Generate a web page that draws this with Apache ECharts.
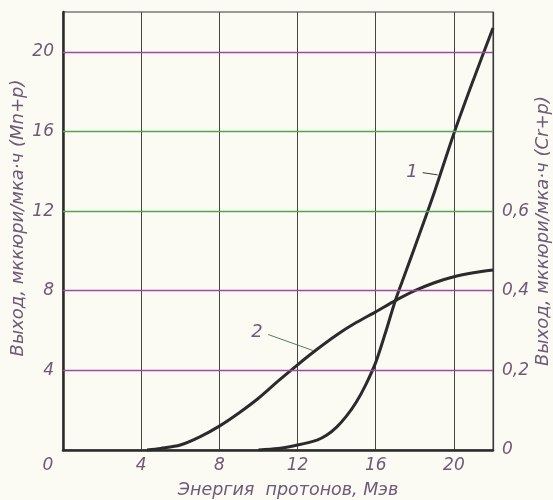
<!DOCTYPE html>
<html><head><meta charset="utf-8">
<script src="https://cdn.jsdelivr.net/npm/echarts@6/dist/echarts.min.js"></script>
<style>html,body{margin:0;padding:0;background:#fbfaf3}#c{width:553px;height:500px}</style>
</head><body><div id="c"></div>
<script>
// Curve 1: Mn+p yield (left axis)
const energy1 = [10, 11, 12, 13, 13.5, 14, 14.5, 15, 15.5, 16, 16.5, 17, 17.5, 18, 19, 20, 21, 22];
const yield1  = [0, 0.07, 0.25, 0.5, 0.75, 1.15, 1.7, 2.4, 3.3, 4.4, 5.9, 7.5, 8.85, 10.2, 12.95, 15.9, 18.6, 21.2];
// Curve 2: Cr+p yield (right axis)
const energy2 = [4.3, 5, 6, 7, 8, 9, 10, 11, 12, 13, 14, 15, 16, 17, 18, 19, 20, 21, 22];
const yield2  = [0, 0.004, 0.0125, 0.033, 0.06, 0.093, 0.13, 0.173, 0.214, 0.253, 0.289, 0.32, 0.347, 0.375, 0.4, 0.42, 0.435, 0.445, 0.452];
const xTicks = [0, 4, 8, 12, 16, 20];
const leftTicks = [0, 4, 8, 12, 16, 20];
const rightTicks = ['0', '0,2', '0,4', '0,6'];
const purpleLevels = [4, 8, 20];
const greenLevels = [12, 16];
const xTitle = 'Энергия  протонов, Мэв';
const leftTitle = 'Выход, мккюри/мка·ч (Mn+p)';
const rightTitle = 'Выход, мккюри/мка·ч (Cr+p)';

const txt = '#6e5a78';
const font = 'DejaVu Sans';
function gridSeries(levels, color) {
  return {
    type: 'line', yAxisIndex: 0, symbol: 'none', data: [], z: 1, silent: true,
    markLine: {
      silent: true, symbol: 'none', animation: false, label: {show: false},
      lineStyle: {color: color, width: 1.3, type: 'solid'},
      data: levels.map(v => ({yAxis: v}))
    }
  };
}
const chart = echarts.init(document.getElementById('c'));
chart.setOption({
  backgroundColor: '#fbfaf3',
  animation: false,
  grid: {left: 63, right: 60, top: 12, bottom: 50, containLabel: false, outerBoundsMode: 'none',
    show: true, borderColor: '#3a3a3a', borderWidth: 1, backgroundColor: 'transparent'},
  xAxis: {
    type: 'value', min: 0, max: 22, interval: 4,
    name: xTitle, nameLocation: 'middle', nameGap: 31, nameMoveOverlap: false,
    nameTextStyle: {color: txt, fontStyle: 'italic', fontSize: 17.5, fontFamily: font, padding: [0, 0, 0, 20]},
    axisLine: {show: true, lineStyle: {color: '#2a2a2a', width: 2.5}},
    axisTick: {show: false},
    axisLabel: {
      color: txt, fontStyle: 'italic', fontSize: 17, fontFamily: font, margin: 7,
      showMaxLabel: false,
      formatter: v => xTicks.includes(v) ? (v === 0 ? '{z|0}' : String(v)) : '',
      rich: {z: {color: txt, fontStyle: 'italic', fontSize: 17, fontFamily: font, padding: [0, 30, 0, 0]}}
    },
    splitLine: {show: true, lineStyle: {color: '#444', width: 1}}
  },
  yAxis: [{
    type: 'value', min: 0, max: 22, interval: 4, position: 'left',
    name: leftTitle, nameLocation: 'middle', nameGap: 36, nameRotate: 90, nameMoveOverlap: false,
    nameTextStyle: {color: txt, fontStyle: 'italic', fontSize: 18, fontFamily: font, padding: [0, 0, 0, 26]},
    axisLine: {show: true, lineStyle: {color: '#2a2a2a', width: 2.5}},
    axisTick: {show: false},
    axisLabel: {color: txt, fontStyle: 'italic', fontSize: 17, fontFamily: font, margin: 9, showMaxLabel: false,
      formatter: v => (leftTicks.includes(v) && v !== 0) ? String(v) : ''},
    splitLine: {show: false}
  }, {
    type: 'value', min: 0, max: 1.1, interval: 0.2, position: 'right',
    name: rightTitle, nameLocation: 'middle', nameGap: 41, nameRotate: 90, nameMoveOverlap: false,
    nameTextStyle: {color: txt, fontStyle: 'italic', fontSize: 18, fontFamily: font},
    axisLine: {show: true, lineStyle: {color: '#3a3a3a', width: 1.2}},
    axisTick: {show: false},
    axisLabel: {color: txt, fontStyle: 'italic', fontSize: 17, fontFamily: font, margin: 9, showMaxLabel: false,
      formatter: v => { const i = Math.round(v / 0.2); return (Math.abs(v - i * 0.2) < 1e-6 && i < rightTicks.length) ? rightTicks[i] : ''; }},
    splitLine: {show: false}
  }],
  series: [
    gridSeries(purpleLevels, '#9b4d9b'),
    gridSeries(greenLevels, '#4fa84f'),
  {
    type: 'line', yAxisIndex: 0, smooth: 0.3, symbol: 'none', z: 3,
    data: energy1.map((x, i) => [x, yield1[i]]),
    lineStyle: {color: '#2b2b2b', width: 3},
    markLine: {
      silent: true, symbol: 'none', animation: false,
      lineStyle: {color: '#3a3a3a', width: 1, type: 'solid'},
      label: {show: true, position: 'start', formatter: '1', color: txt, fontStyle: 'italic', fontSize: 18, fontFamily: font, distance: 5},
      data: [[{coord: [18.4, 13.93]}, {coord: [19.17, 13.82]}]]
    }
  }, {
    type: 'line', yAxisIndex: 1, smooth: 0.3, symbol: 'none', z: 3,
    data: energy2.map((x, i) => [x, yield2[i]]),
    lineStyle: {color: '#2b2b2b', width: 3},
    markLine: {
      silent: true, symbol: 'none', animation: false,
      lineStyle: {color: '#5a7a5a', width: 1, type: 'solid'},
      label: {show: true, position: 'start', formatter: '2', color: txt, fontStyle: 'italic', fontSize: 18, fontFamily: font, distance: 6},
      data: [[{coord: [10.5, 0.29]}, {coord: [12.78, 0.25]}]]
    }
  }]
});
</script></body></html>
